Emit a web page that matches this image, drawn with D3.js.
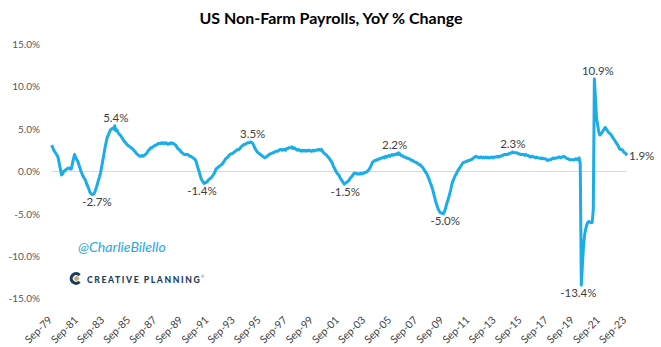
<!DOCTYPE html>
<html><head><meta charset="utf-8">
<script src="https://cdn.jsdelivr.net/npm/d3@7/dist/d3.min.js"></script>
<style>body{margin:0;background:#fff}svg{display:block}</style>
</head><body>
<svg id="chart" width="661" height="347"></svg>
<script>
// ---- Data: US non-farm payrolls, YoY % change, monthly from Sep-1979 ----
const firstMonth = "Sep-79";
const yoy1970s = [3.1, 2.8, 2.5, 2.3];
const yoy1980s = [
  2.1, 1.9, 1.6, 0.9, 0.3, -0.4, -0.3, 0.0, 0.1, 0.2, 0.3, 0.4,
  0.4, 0.3, 0.3, 0.9, 1.5, 2.0, 1.7, 1.4, 1.2, 0.8, 0.4, 0.0,
  -0.3, -0.6, -0.8, -1.0, -1.4, -1.7, -2.0, -2.4, -2.6, -2.7, -2.7, -2.6,
  -2.3, -1.9, -1.5, -1.0, -0.6, -0.1, 0.6, 1.3, 2.0, 2.8, 3.4, 4.0,
  4.3, 4.6, 4.9, 5.0, 5.1, 5.0, 5.4, 4.8, 4.9, 4.6, 4.4, 4.3,
  4.1, 3.9, 3.7, 3.5, 3.4, 3.2, 3.1, 3.0, 2.9, 2.8, 2.7, 2.6,
  2.4, 2.3, 2.1, 2.0, 1.9, 1.8, 1.8, 1.9, 1.8, 1.9, 2.0, 2.1,
  2.3, 2.5, 2.6, 2.8, 2.8, 2.9, 3.0, 3.1, 3.1, 3.2, 3.3, 3.3,
  3.3, 3.4, 3.3, 3.4, 3.3, 3.4, 3.3, 3.2, 3.3, 3.3, 3.4, 3.3,
  3.3, 3.2, 3.1, 2.9, 2.7, 2.6, 2.5, 2.3, 2.2, 2.1, 2.0, 2.0
];
const yoy1990s = [
  2.0, 2.0, 1.9, 1.8, 1.8, 1.7, 1.6, 1.5, 1.4, 1.1, 0.6, 0.2,
  -0.2, -0.7, -1.0, -1.2, -1.4, -1.3, -1.3, -1.2, -1.0, -0.9, -0.8, -0.7,
  -0.5, -0.3, -0.1, 0.3, 0.4, 0.5, 0.6, 0.7, 0.8, 0.9, 1.1, 1.3,
  1.5, 1.6, 1.7, 1.9, 2.0, 2.1, 2.1, 2.2, 2.3, 2.4, 2.5, 2.6,
  2.6, 2.7, 2.9, 3.0, 3.1, 3.2, 3.2, 3.3, 3.4, 3.4, 3.4, 3.5,
  3.4, 3.3, 3.0, 2.7, 2.5, 2.3, 2.2, 2.1, 2.0, 1.9, 1.8, 1.7,
  1.6, 1.7, 1.8, 1.9, 2.0, 2.1, 2.1, 2.2, 2.2, 2.3, 2.4, 2.4,
  2.4, 2.5, 2.6, 2.6, 2.5, 2.6, 2.6, 2.5, 2.7, 2.7, 2.8, 2.8,
  2.8, 2.9, 2.7, 2.8, 2.7, 2.6, 2.5, 2.6, 2.5, 2.4, 2.5, 2.4,
  2.5, 2.4, 2.5, 2.4, 2.5, 2.5, 2.4, 2.4, 2.5, 2.4, 2.5, 2.5
];
const yoy2000s = [
  2.5, 2.6, 2.6, 2.5, 2.6, 2.4, 2.2, 2.1, 2.0, 1.9, 1.7, 1.6,
  1.4, 1.2, 1.0, 0.6, 0.4, 0.1, -0.1, -0.3, -0.4, -0.7, -0.9, -1.1,
  -1.3, -1.5, -1.4, -1.3, -1.2, -1.1, -0.9, -0.7, -0.6, -0.4, -0.2, -0.2,
  -0.2, -0.3, -0.3, -0.3, -0.2, -0.3, -0.2, -0.2, -0.1, -0.1, 0.0, 0.1,
  0.3, 0.5, 0.8, 1.1, 1.2, 1.3, 1.3, 1.4, 1.4, 1.5, 1.5, 1.6,
  1.6, 1.7, 1.6, 1.8, 1.7, 1.8, 1.9, 1.8, 1.9, 2.0, 1.9, 2.0,
  2.0, 2.1, 2.0, 2.2, 2.1, 1.9, 1.9, 1.8, 1.7, 1.7, 1.6, 1.6,
  1.5, 1.5, 1.4, 1.3, 1.3, 1.2, 1.1, 1.1, 1.0, 0.9, 0.8, 0.8,
  0.6, 0.5, 0.3, 0.1, -0.1, -0.3, -0.6, -0.9, -1.3, -1.6, -2.0, -2.5,
  -3.0, -3.5, -3.9, -4.3, -4.6, -4.8, -4.9, -4.9, -5.0, -4.8, -4.4, -3.9
];
const yoy2010s = [
  -3.5, -3.1, -2.6, -2.1, -1.5, -1.1, -0.8, -0.5, -0.3, 0.0, 0.2, 0.4,
  0.6, 0.8, 1.0, 1.1, 1.1, 1.2, 1.2, 1.3, 1.3, 1.4, 1.4, 1.5,
  1.6, 1.7, 1.8, 1.7, 1.7, 1.6, 1.7, 1.7, 1.6, 1.7, 1.6, 1.7,
  1.6, 1.7, 1.6, 1.6, 1.7, 1.7, 1.6, 1.7, 1.7, 1.7, 1.8, 1.7,
  1.8, 1.8, 1.9, 1.9, 2.0, 2.0, 2.0, 2.0, 2.1, 2.1, 2.2, 2.2,
  2.3, 2.2, 2.2, 2.2, 2.2, 2.1, 2.1, 2.0, 2.0, 2.0, 2.0, 1.9,
  2.0, 1.9, 1.9, 1.8, 1.7, 1.8, 1.8, 1.7, 1.7, 1.6, 1.7, 1.6,
  1.6, 1.6, 1.5, 1.6, 1.5, 1.5, 1.5, 1.4, 1.3, 1.4, 1.4, 1.4,
  1.5, 1.6, 1.5, 1.6, 1.6, 1.6, 1.7, 1.7, 1.6, 1.7, 1.7, 1.8,
  1.7, 1.6, 1.5, 1.5, 1.4, 1.4, 1.4, 1.4, 1.4, 1.4, 1.5, 1.4
];
const yoy2020s = [
  1.5, 1.6, 0.9, -13.4, -11.0, -8.8, -7.5, -6.8, -6.3, -6.0, -5.9, -6.0,
  -6.0, -6.0, -4.5, 10.9, 8.6, 6.3, 5.5, 4.7, 4.3, 4.4, 4.6, 4.8,
  5.0, 5.2, 5.0, 4.8, 4.6, 4.5, 4.4, 4.2, 4.0, 3.8, 3.6, 3.4,
  3.2, 3.0, 2.7, 2.6, 2.6, 2.5, 2.3, 2.2, 2.1, 1.9
];
const tickLabels = ["Sep-79","Sep-81","Sep-83","Sep-85","Sep-87","Sep-89","Sep-91","Sep-93",
  "Sep-95","Sep-97","Sep-99","Sep-01","Sep-03","Sep-05","Sep-07","Sep-09","Sep-11","Sep-13",
  "Sep-15","Sep-17","Sep-19","Sep-21","Sep-23"];
const yTicks = [-15, -10, -5, 0, 5, 10, 15];
// annotated points: month label and its text
const annMonths = ["Jul-84","Oct-82","May-91","Dec-94","Feb-02","Apr-06","Sep-09","Jan-15","Apr-20","Apr-21","Oct-23"];
const annText   = ["5.4%","-2.7%","-1.4%","3.5%","-1.5%","2.2%","-5.0%","2.3%","-13.4%","10.9%","1.9%"];

// ---- Build ----
const values = [].concat(yoy1970s, yoy1980s, yoy1990s, yoy2000s, yoy2010s, yoy2020s);
const mNames = ["Jan","Feb","Mar","Apr","May","Jun","Jul","Aug","Sep","Oct","Nov","Dec"];
const monthLabel = i => { const t = 8 + i; const yr = (79 + Math.floor(t / 12)) % 100; return mNames[t % 12] + "-" + String(yr).padStart(2, "0"); };
const data = values.map((v, i) => ({ i, v, label: monthLabel(i) }));

const svg = d3.select("#chart");
const x = d3.scaleLinear().domain([0, data.length - 1]).range([51.7, 627]);
const y = d3.scaleLinear().domain([-15, 15]).range([298.7, 44.3]);

// title
svg.append("text").attr("x", 331).attr("y", 24).attr("text-anchor", "middle")
  .style("font-family", "Lato, 'Open Sans', sans-serif").style("font-weight", "700")
  .style("font-size", "16px").style("fill", "#000").text("US Non-Farm Payrolls, YoY % Change");

// y axis labels
const yAxis = d3.axisLeft(y).tickValues(yTicks).tickSize(0).tickPadding(0)
  .tickFormat(d => d.toFixed(1) + "%");
const gy = svg.append("g").attr("transform", "translate(40,0)").call(yAxis);
gy.select(".domain").remove();
gy.selectAll("text").style("font-family", "Lato, sans-serif").style("font-size", "10px").style("fill", "#595959");

// zero line
svg.append("line").attr("x1", x(0)).attr("x2", x(data.length - 1))
  .attr("y1", y(0)).attr("y2", y(0)).attr("stroke", "#d9d9d9").attr("stroke-width", 1);

// x axis labels
const tickIdx = tickLabels.map(l => data.findIndex(d => d.label === l));
const xAxis = d3.axisBottom(x).tickValues(tickIdx).tickSize(0)
  .tickFormat((d, k) => tickLabels[k]);
const gx = svg.append("g").attr("transform", "translate(0,312)").call(xAxis);
gx.select(".domain").remove();
gx.selectAll("text").attr("y", 0).attr("dy", "0.35em")
  .attr("transform", "translate(-2,6) rotate(-45)").style("text-anchor", "end")
  .style("font-family", "Lato, sans-serif").style("font-size", "10.5px").style("fill", "#404040");

// line
const line = d3.line().x(d => x(d.i)).y(d => y(d.v)).curve(d3.curveLinear);
svg.append("path").datum(data).attr("d", line).attr("fill", "none")
  .attr("stroke", "#1AADE8").attr("stroke-width", 3).attr("stroke-linejoin", "round");

// data labels
const annDx = [1, 5, -2, 2, 1, -4, 2, 0, -3, 3.5, 0];
annMonths.forEach((m, k) => {
  const d = data.find(e => e.label === m);
  const last = d.i === data.length - 1;
  const up = d.v > 0;
  svg.append("text")
    .attr("x", x(d.i) + (last ? 2 : annDx[k]))
    .attr("y", y(d.v) + (last ? 5 : (up ? -4 : 11.5)))
    .attr("text-anchor", last ? "start" : "middle")
    .style("font-family", "Lato, sans-serif").style("font-size", "11.5px").style("fill", "#404040")
    .text(annText[k]);
});

// watermark
svg.append("text").attr("x", 78).attr("y", 251.5)
  .style("font-family", "Lato, sans-serif").style("font-style", "italic").style("font-size", "14.2px")
  .style("fill", "#2AA8E0").text("@CharlieBilello");

// logo
const logo = svg.append("g").attr("transform", "translate(76,278.5)");
logo.append("path").attr("d", d3.arc()({ innerRadius: 3.2, outerRadius: 6.4, startAngle: 0.75, endAngle: 2 * Math.PI - 0.75 }))
  .attr("fill", "#1C3D5A").attr("transform", "rotate(90)");
logo.append("path").attr("d", "M0,-3 L3,0 L0,3 L-3,0 Z").attr("fill", "#C8A878").attr("transform", "translate(0.5,0)");
svg.append("text").attr("x", 87).attr("y", 283)
  .style("font-family", "Lato, sans-serif").style("font-weight", "900").style("font-size", "8.6px")
  .style("letter-spacing", "1.6px").style("fill", "#1C3D5A").text("CREATIVE PLANNING");
svg.append("text").attr("x", 201).attr("y", 278)
  .style("font-family", "Lato, sans-serif").style("font-size", "4px").style("fill", "#1C3D5A").text("®");
</script>
</body></html>
